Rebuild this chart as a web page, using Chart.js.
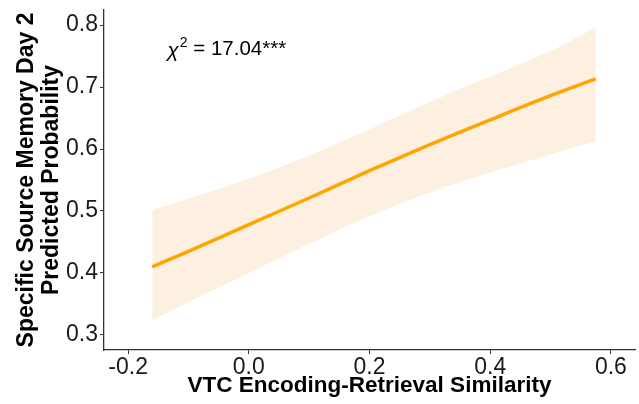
<!DOCTYPE html>
<html>
<head>
<meta charset="utf-8">
<script src="https://cdn.jsdelivr.net/npm/chart.js@4/dist/chart.umd.min.js"></script>
<style>
  html, body { margin: 0; padding: 0; background: #fff; }
  #wrap { width: 639px; height: 404px; }
</style>
</head>
<body>
<div id="wrap"><canvas id="c" width="639" height="404"></canvas></div>
<script>
// VTC encoding-retrieval similarity (x) and model predicted probability with 95% CI
const similarity = [-0.16, -0.1, 0.0, 0.1, 0.2, 0.3, 0.4, 0.5, 0.575];
const predicted  = [0.410, 0.435, 0.478, 0.521, 0.565, 0.607, 0.647, 0.686, 0.713];
const ciUpper    = [0.502, 0.520, 0.552, 0.590, 0.632, 0.676, 0.717, 0.758, 0.796];
const ciLower    = [0.324, 0.353, 0.400, 0.447, 0.492, 0.530, 0.562, 0.591, 0.613];

const xTicks = [-0.2, 0.0, 0.2, 0.4, 0.6];
const yTicks = [0.3, 0.4, 0.5, 0.6, 0.7, 0.8];

const statLabel = { chi: 'χ', sup: '2', rest: ' = 17.04***', x: -0.135, y: 0.761 };

const pts = (ys) => similarity.map((x, i) => ({ x: x, y: ys[i] }));

const FONT = '"Liberation Sans", Arial, sans-serif';

const statPlugin = {
  id: 'statText',
  afterDatasetsDraw(chart) {
    const { ctx, scales } = chart;
    const px = scales.x.getPixelForValue(statLabel.x);
    const py = scales.y.getPixelForValue(statLabel.y);
    ctx.save();
    ctx.fillStyle = '#000';
    ctx.textBaseline = 'middle';
    ctx.textAlign = 'left';
    ctx.font = 'italic 21px ' + FONT;
    ctx.fillText(statLabel.chi, px, py + 2);
    let w = ctx.measureText(statLabel.chi).width;
    ctx.font = '14px ' + FONT;
    ctx.fillText(statLabel.sup, px + w + 1, py - 6);
    w += ctx.measureText(statLabel.sup).width + 1;
    ctx.font = '20.5px ' + FONT;
    ctx.fillText(statLabel.rest, px + w, py);
    ctx.restore();
  }
};

new Chart(document.getElementById('c'), {
  type: 'line',
  data: {
    datasets: [
      {
        label: 'upper',
        data: pts(ciUpper),
        borderWidth: 0,
        pointRadius: 0,
        backgroundColor: '#FEF0E0',
        fill: '+1',
        cubicInterpolationMode: 'monotone',
        order: 3
      },
      {
        label: 'lower',
        data: pts(ciLower),
        borderWidth: 0,
        pointRadius: 0,
        fill: false,
        cubicInterpolationMode: 'monotone',
        order: 2
      },
      {
        label: 'fit',
        data: pts(predicted),
        borderColor: '#FFA500',
        borderWidth: 3.5,
        pointRadius: 0,
        fill: false,
        cubicInterpolationMode: 'monotone',
        order: 1
      }
    ]
  },
  options: {
    responsive: false,
    animation: false,
    plugins: { legend: { display: false }, tooltip: { enabled: false } },
    layout: { padding: { top: 10, right: 4, left: 0, bottom: 0 } },
    scales: {
      x: {
        type: 'linear',
        min: -0.24,
        max: 0.64,
        afterBuildTicks: (s) => { s.ticks = xTicks.map(v => ({ value: v })); },
        afterFit: (s) => { s.height = 54; s.paddingLeft = 0; s.paddingRight = 0; },
        ticks: {
          color: '#1a1a1a',
          font: { family: FONT, size: 23 },
          padding: 0,
          maxRotation: 0,
          callback: (v) => Number(v).toFixed(1)
        },
        grid: { display: true, drawOnChartArea: false, drawTicks: true, tickLength: 4, color: '#333', tickWidth: 1 },
        border: { display: true, color: '#333', width: 1.3 },
        title: {
          display: true,
          text: 'VTC Encoding-Retrieval Similarity',
          color: '#000',
          font: { family: FONT, size: 22.5, weight: 'bold' },
          padding: { top: 0, bottom: 5 }
        }
      },
      y: {
        type: 'linear',
        min: 0.2758,
        max: 0.8242,
        afterBuildTicks: (s) => { s.ticks = yTicks.map(v => ({ value: v })); },
        afterFit: (s) => { s.width = 104; s.paddingTop = 0; s.paddingBottom = 0; },
        ticks: {
          color: '#1a1a1a',
          font: { family: FONT, size: 23 },
          padding: 2,
          callback: (v) => Number(v).toFixed(1)
        },
        grid: { display: true, drawOnChartArea: false, drawTicks: true, tickLength: 4, color: '#333', tickWidth: 1 },
        border: { display: true, color: '#333', width: 1.3 },
        title: {
          display: true,
          text: ['Specific Source Memory Day 2', 'Predicted Probability'],
          color: '#000',
          font: { family: FONT, size: 23, weight: 'bold', lineHeight: 1.1 },
          padding: { top: 14, bottom: 0 }
        }
      }
    }
  },
  plugins: [statPlugin]
});
</script>
</body>
</html>
